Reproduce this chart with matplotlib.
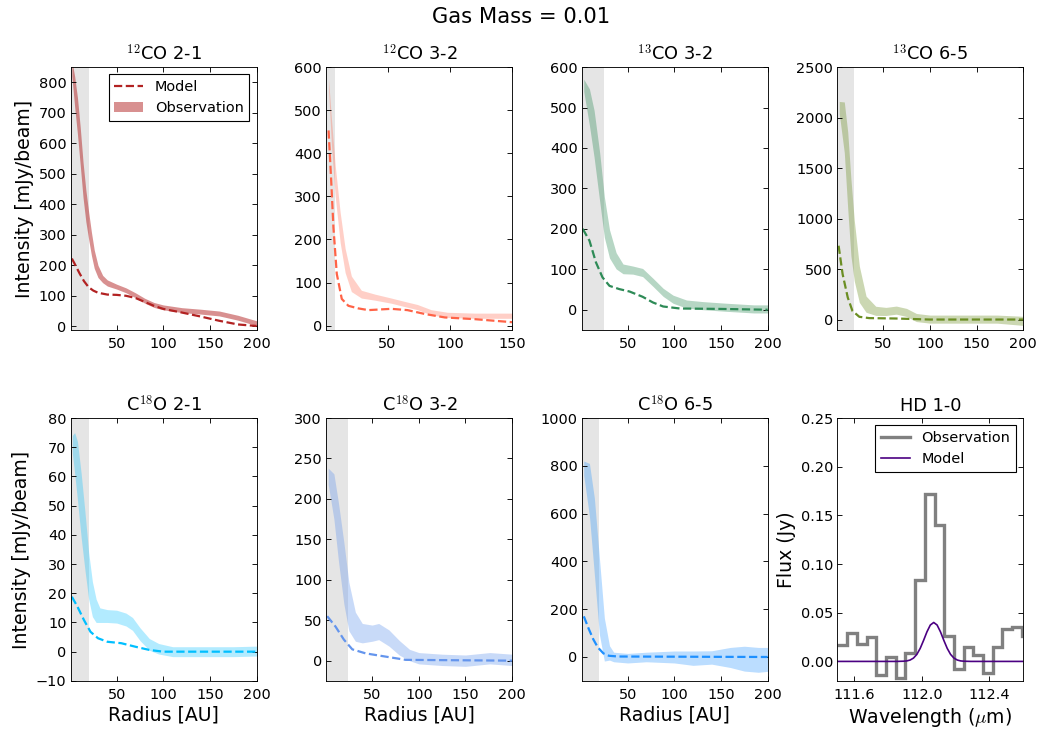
import numpy as np
import matplotlib.pyplot as plt

# ============================================================
# DATA
# ============================================================

# 12CO 2-1
r_obs_12co21 = [2, 5, 8, 11, 14, 17, 20, 23, 26, 30, 35, 40, 50, 60, 70, 80, 90, 100, 120, 140, 160, 180, 200]
obs_12co21 = [845, 770, 690, 590, 480, 395, 330, 270, 220, 180, 155, 142, 130, 118, 102, 84, 70, 62, 53, 48, 42, 28, 10]
err_12co21 = [25, 50, 60, 62, 58, 52, 45, 38, 30, 20, 12, 10, 8, 8, 8, 8, 8, 8, 8, 8, 8, 8, 8]
r_mod_12co21 = [2, 5, 10, 15, 20, 25, 30, 40, 50, 60, 70, 80, 90, 100, 120, 140, 160, 180, 200]
mod_12co21 = [222, 205, 175, 148, 128, 117, 110, 104, 103, 100, 93, 80, 67, 57, 45, 32, 18, 6, 1]

# 12CO 3-2
r_obs_12co32 = [2.7, 5, 8, 12, 16, 21, 29, 40, 53, 64, 74, 85, 98, 120, 150]
obs_12co32 = [560, 450, 337, 228, 151, 97, 73, 66, 58, 50, 43, 31, 25, 23, 23]
err_12co32 = [12, 30, 36, 35, 28, 18, 9, 7, 6, 6, 6, 6, 6, 6, 6]
r_mod_12co32 = [2.7, 4.8, 6.6, 9.3, 13.3, 18.6, 26.6, 34.6, 53, 66, 80, 96, 120, 150]
mod_12co32 = [453, 337, 228, 120, 62, 46, 40, 36, 39, 36, 27, 19, 15, 8]

# 13CO 3-2
r_obs_13co32 = [2.9, 9, 14, 20, 25, 30.5, 37.6, 45, 55.5, 66, 77, 88, 98.6, 113, 131, 156, 185, 200]
obs_13co32 = [555, 501, 435, 328, 229, 163, 121, 101, 98, 92, 68, 43, 26, 14, 10, 6, 2, 2]
err_13co32 = [15, 45, 58, 60, 50, 35, 20, 12, 10, 10, 10, 10, 10, 10, 10, 10, 10, 10]
r_mod_13co32 = [1.8, 9, 16, 23, 30.5, 41, 52, 66, 77, 88, 106, 149, 200]
mod_13co32 = [200, 171, 117, 80, 59, 51, 45, 32, 18, 8, 3, 2, 0]

# 13CO 6-5
r_obs_13co65 = [2.9, 8.3, 12, 15.4, 19, 24.4, 31.6, 42, 53, 64, 75, 85.5, 100, 136, 172, 200]
obs_13co65 = [2100, 1905, 1476, 1014, 684, 353, 155, 89, 83, 96, 73, 23, 7, 7, 7, -10]
err_13co65 = [60, 250, 380, 380, 300, 180, 80, 45, 40, 40, 40, 40, 40, 40, 40, 45]
r_mod_13co65 = [2.2, 6.5, 12, 17, 24.4, 35, 64, 100, 200]
mod_13co65 = [733, 452, 221, 89, 30, 17, 13, 3, 3]

# C18O 2-1
r_obs_c18o21 = [2.5, 5, 8, 12, 16, 20, 24, 28, 32, 40, 50, 60, 67, 75, 85, 95, 110, 130, 150, 175, 200]
obs_c18o21 = [71, 68, 62, 50, 38, 26, 18, 14, 12.5, 12.2, 12, 11, 9.5, 6, 2.5, 1, 0, 0, 0, 0, 0.2]
err_c18o21 = [3, 7, 10, 11, 10, 8, 6, 4, 2.5, 2.2, 2.2, 2.2, 2.2, 2.2, 2, 1.8, 1.7, 1.7, 1.7, 1.7, 1.7]
r_mod_c18o21 = [2, 8, 15, 22, 30, 40, 55, 70, 85, 100, 200]
mod_c18o21 = [18.8, 15.4, 10.8, 6.8, 4.6, 3.4, 2.9, 1.7, 0.6, 0, 0]

# C18O 3-2
r_obs_c18o32 = [2.9, 9, 14, 19.7, 25, 32, 39.4, 50, 57, 68, 79, 90, 100, 125, 150, 176, 200]
obs_c18o32 = [228, 203, 158, 108, 67, 42, 34, 34, 36, 28, 16, 7, 3, 1, 0, 3, 1]
err_c18o32 = [10, 28, 36, 38, 30, 18, 12, 10, 10, 10, 9, 7, 7, 7, 7, 7, 7]
r_mod_c18o32 = [1.8, 10.8, 19.7, 28.7, 43, 64.5, 86, 200]
mod_c18o32 = [55, 42, 26, 14, 9, 5, 1, 0]

# C18O 6-5
r_obs_c18o65 = [2.9, 9, 14.3, 19.7, 25, 30.5, 35, 50, 70, 100, 120, 140, 160, 175, 190, 200]
obs_c18o65 = [790, 700, 505, 254, 73, 17, 0, -5, 0, 0, -5, -2, -2, -7, -12, -10]
err_c18o65 = [30, 110, 160, 160, 90, 30, 20, 20, 20, 25, 30, 28, 42, 52, 52, 50]
r_mod_c18o65 = [3, 8, 13, 18, 24, 30, 40, 200]
mod_c18o65 = [170, 120, 75, 40, 15, 5, 2, 0]

# HD 1-0 spectrum
hd_wave_edges = [111.500, 111.557, 111.615, 111.672, 111.730, 111.787, 111.845, 111.902,
                 111.960, 112.017, 112.075, 112.132, 112.190, 112.247, 112.305, 112.362,
                 112.420, 112.477, 112.535, 112.592, 112.650]
hd_obs_flux = [0.017, 0.029, 0.018, 0.025, -0.014, 0.005, -0.017, 0.009, 0.084, 0.172,
               0.140, 0.026, -0.008, 0.015, 0.007, -0.012, 0.015, 0.033, 0.035, 0.026]
hd_mod_wave = [111.50, 111.85, 111.89, 111.91, 111.93, 111.95, 111.97, 111.99, 112.01, 112.03,
               112.05, 112.07, 112.09, 112.11, 112.13, 112.15, 112.17, 112.19, 112.21, 112.23,
               112.25, 112.29, 112.60]
hd_mod_flux = [0, 0, 0.0002, 0.0005, 0.0014, 0.0034, 0.0072, 0.0134, 0.0216, 0.0304,
               0.0374, 0.0400, 0.0374, 0.0304, 0.0216, 0.0134, 0.0072, 0.0034, 0.0014, 0.0005,
               0.0002, 0, 0]

# ============================================================
# PANEL SETTINGS
# ============================================================

panels = [
    (r'$^{12}$CO 2-1', r_obs_12co21, obs_12co21, err_12co21, r_mod_12co21, mod_12co21,
     'firebrick', 0.5, 20, 200, (-12, 850)),
    (r'$^{12}$CO 3-2', r_obs_12co32, obs_12co32, err_12co32, r_mod_12co32, mod_12co32,
     'tomato', 0.3, 8, 150, (-10, 600)),
    (r'$^{13}$CO 3-2', r_obs_13co32, obs_13co32, err_13co32, r_mod_13co32, mod_13co32,
     'seagreen', 0.35, 25, 200, (-50, 600)),
    (r'$^{13}$CO 6-5', r_obs_13co65, obs_13co65, err_13co65, r_mod_13co65, mod_13co65,
     'olivedrab', 0.35, 19, 200, (-100, 2500)),
    (r'C$^{18}$O 2-1', r_obs_c18o21, obs_c18o21, err_c18o21, r_mod_c18o21, mod_c18o21,
     'deepskyblue', 0.3, 20, 200, (-10, 80)),
    (r'C$^{18}$O 3-2', r_obs_c18o32, obs_c18o32, err_c18o32, r_mod_c18o32, mod_c18o32,
     'cornflowerblue', 0.35, 24, 200, (-25, 300)),
    (r'C$^{18}$O 6-5', r_obs_c18o65, obs_c18o65, err_c18o65, r_mod_c18o65, mod_c18o65,
     'dodgerblue', 0.3, 19, 200, (-100, 1000)),
]

plt.rcParams['mathtext.fontset'] = 'cm'
plt.rcParams['font.size'] = 13
plt.rcParams['xtick.labelsize'] = 13
plt.rcParams['ytick.labelsize'] = 13
plt.rcParams['xtick.direction'] = 'in'
plt.rcParams['ytick.direction'] = 'in'
plt.rcParams['xtick.top'] = True
plt.rcParams['ytick.right'] = True
plt.rcParams['xtick.major.size'] = 4.5
plt.rcParams['ytick.major.size'] = 4.5
plt.rcParams['xtick.major.pad'] = 6
plt.rcParams['ytick.major.pad'] = 4
plt.rcParams['legend.fancybox'] = False
plt.rcParams['legend.edgecolor'] = 'black'
plt.rcParams['legend.framealpha'] = 1

# ============================================================
# FIGURE
# ============================================================

fig, axes = plt.subplots(2, 4, figsize=(1043 / 80, 729 / 80), dpi=80)
fig.subplots_adjust(left=0.068, right=0.981, top=0.908, bottom=0.066,
                    wspace=0.376, hspace=0.335)

for i, (title, r_obs, obs, err, r_mod, mod, color, alpha, beam, rmax, ylim) in enumerate(panels):

    ax = axes.flat[i]

    obs = np.array(obs)
    err = np.array(err)

    # beam-size region
    ax.axvspan(0, beam, color='0.5', alpha=0.2, lw=0)

    h_obs = ax.fill_between(r_obs, obs - err, obs + err, color=color, alpha=alpha, lw=0)

    h_mod, = ax.plot(r_mod, mod, '--', color=color, lw=2)

    ax.set_xlim(1, rmax)
    ax.set_ylim(ylim)
    ax.set_xticks(np.arange(50, rmax + 1, 50))

    ax.set_title(title, fontsize=16)

    if i in (0, 4):
        ax.set_ylabel('Intensity [mJy/beam]', fontsize=17)

    if i >= 4:
        ax.set_xlabel('Radius [AU]', fontsize=17)

    if i == 0:
        ax.legend([h_mod, h_obs], ['Model', 'Observation'], loc='upper right', fontsize=13)

# HD panel
ax = axes.flat[7]

h_hd_obs = ax.stairs(hd_obs_flux, hd_wave_edges, baseline=None, color='gray', lw=3)
h_hd_mod, = ax.plot(hd_mod_wave, hd_mod_flux, color='indigo', lw=1.5)

ax.set_xlim(111.5, 112.6)
ax.set_ylim(-0.02, 0.25)
ax.set_xticks([111.6, 112.0, 112.4])
ax.set_yticks([0.0, 0.05, 0.10, 0.15, 0.20, 0.25])
ax.set_yticklabels(['0.00', '0.05', '0.10', '0.15', '0.20', '0.25'])

ax.set_title('HD 1-0', fontsize=16)
ax.set_xlabel(r'Wavelength ($\mu$m)', fontsize=17)
ax.set_ylabel('Flux (Jy)', fontsize=17)

ax.legend([h_hd_obs, h_hd_mod], ['Observation', 'Model'], loc='upper right', fontsize=13)

fig.suptitle('Gas Mass = 0.01', fontsize=19, y=0.99)

plt.savefig('out.png', dpi=80, facecolor='white')
plt.close()
